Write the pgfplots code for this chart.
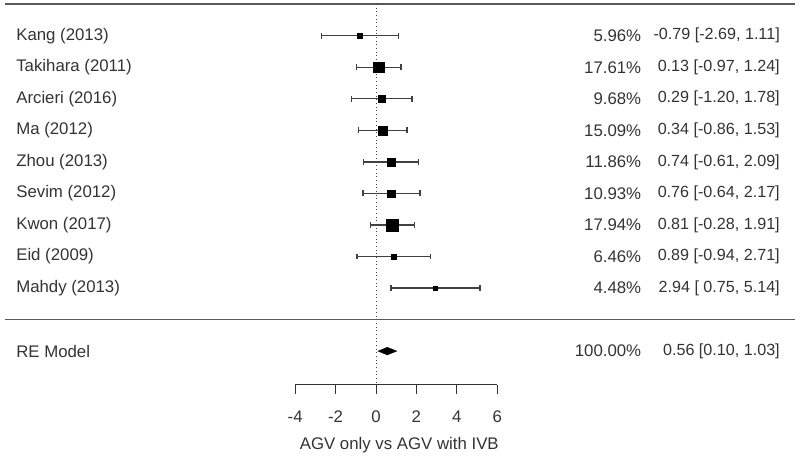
\documentclass[border=0pt]{standalone}
\usepackage{pgfplots}
\pgfplotsset{compat=1.18}
\usepackage{pgfplotstable}
\usepackage{fontspec}
\setmainfont{Liberation Sans}
\definecolor{txt}{HTML}{333333}
\definecolor{rulec}{HTML}{5A5A5A}
\definecolor{barc}{HTML}{404040}

\pgfplotstableread[col sep=semicolon, row sep=\\]{
y;est;lo;hi;ms;name;w;ci\\
9;-0.79;-2.69;1.11;1.9;Kang (2013);5.96\%;-0.79 [-2.69, 1.11]\\
8;0.13;-0.97;1.24;4.1;Takihara (2011);17.61\%;0.13 [-0.97, 1.24]\\
7;0.29;-1.20;1.78;2.6;Arcieri (2016);9.68\%;0.29 [-1.20, 1.78]\\
6;0.34;-0.86;1.53;3.4;Ma (2012);15.09\%;0.34 [-0.86, 1.53]\\
5;0.74;-0.61;2.09;3.0;Zhou (2013);11.86\%;0.74 [-0.61, 2.09]\\
4;0.76;-0.64;2.17;2.7;Sevim (2012);10.93\%;0.76 [-0.64, 2.17]\\
3;0.81;-0.28;1.91;4.5;Kwon (2017);17.94\%;0.81 [-0.28, 1.91]\\
2;0.89;-0.94;2.71;2.0;Eid (2009);6.46\%;0.89 [-0.94, 2.71]\\
1;2.94;0.75;5.14;1.5;Mahdy (2013);4.48\%;2.94 [\space0.75, 5.14]\\
-1;0.56;0.10;1.03;0;RE Model;100.00\%;0.56 [0.10, 1.03]\\
}\studies

\begin{document}
\begin{tikzpicture}
\begin{axis}[
  scale only axis, width=600pt, height=342pt,
  xmin=-18.614, xmax=20.990, ymin=-4.326, ymax=10.132,
  hide axis, clip=false,
  every node near coord/.append style={font=\fontsize{12.6}{15}\selectfont, text=txt, inner sep=0pt},
]
% rules
\addplot[rulec, line width=1.3pt, mark=none] coordinates {(-18.37,10) (20.74,10)};
\addplot[rulec, line width=1.3pt, mark=none] coordinates {(-18.37,0) (20.74,0)};
% reference line
\addplot[barc, dotted, line width=0.75pt, mark=none] coordinates {(0,10) (0,-2.075)};
% CIs and weighted squares
\addplot[scatter, only marks, mark=square*, skip coords between index={9}{10},
  scatter/use mapped color={draw=black, fill=black},
  visualization depends on={\thisrow{ms} \as \msize},
  scatter/@pre marker code/.append style={/tikz/mark size=\msize pt},
  error bars/.cd, x dir=both, x explicit,
  error bar style={barc, line width=1pt},
  error mark options={rotate=90, mark size=2.2pt, line width=1pt, barc},
] table[x=est, y=y, x error plus expr=\thisrow{hi}-\thisrow{est}, x error minus expr=\thisrow{est}-\thisrow{lo}] {\studies};
% RE diamond
\addplot[fill=black, draw=black, line width=0.3pt, mark=none] coordinates {(0.10,-1) (0.56,-0.88) (1.03,-1) (0.56,-1.12)} -- cycle;
% text columns
\addplot[only marks, mark=none, nodes near coords, point meta=explicit symbolic,
  every node near coord/.append style={anchor=west}] table[x expr=-17.82, y=y, meta=name] {\studies};
\addplot[only marks, mark=none, nodes near coords, point meta=explicit symbolic,
  every node near coord/.append style={anchor=east}] table[x expr=13.14, y=y, meta=w] {\studies};
\addplot[only marks, mark=none, nodes near coords, point meta=explicit symbolic,
  every node near coord/.append style={anchor=east, font=\fontsize{12.1}{15}\selectfont}] table[x expr=20.0, y=y, meta=ci] {\studies};
% x axis
\addplot[txt, line width=0.75pt, mark=none] coordinates {(-4,-2.075) (6,-2.075)};
\addplot[only marks, mark=|, mark size=3.4pt, mark options={txt, line width=0.75pt}] coordinates {(-4,-2.219) (-2,-2.219) (0,-2.219) (2,-2.219) (4,-2.219) (6,-2.219)};
\addplot[only marks, mark=none, nodes near coords, point meta=explicit symbolic,
  every node near coord/.append style={anchor=center}] table[row sep=\\, meta=lab] {
x y lab\\
-4 -3.07 -4\\
-2 -3.07 -2\\
0 -3.07 0\\
2 -3.07 2\\
4 -3.07 4\\
6 -3.07 6\\
};
\addplot[only marks, mark=none, nodes near coords, point meta=explicit symbolic,
  every node near coord/.append style={anchor=center}] coordinates {(1.15,-3.98) [AGV only vs AGV with IVB]};
\end{axis}
\path (current axis.south west) rectangle (current axis.north east);
\end{tikzpicture}
\end{document}
